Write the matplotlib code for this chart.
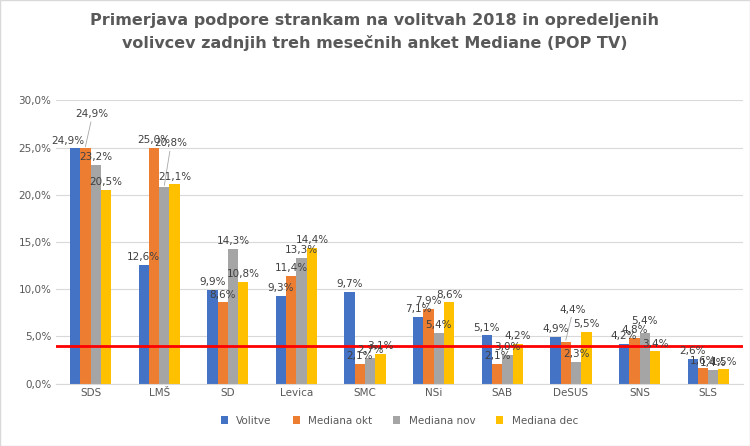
import matplotlib
matplotlib.use("Agg")
import matplotlib.pyplot as plt
import numpy as np

categories = ["SDS", "LMŠ", "SD", "Levica", "SMC", "NSi", "SAB", "DeSUS", "SNS", "SLS"]
series_names = ["Volitve", "Mediana okt", "Mediana nov", "Mediana dec"]
volitve = [24.9, 12.6, 9.9, 9.3, 9.7, 7.1, 5.1, 4.9, 4.2, 2.6]
okt = [24.9, 25.0, 8.6, 11.4, 2.1, 7.9, 2.1, 4.4, 4.8, 1.6]
nov = [23.2, 20.8, 14.3, 13.3, 2.7, 5.4, 3.0, 2.3, 5.4, 1.4]
dec = [20.5, 21.1, 10.8, 14.4, 3.1, 8.6, 4.2, 5.5, 3.4, 1.5]
colors = ["#4472C4", "#ED7D31", "#A5A5A5", "#FFC000"]
threshold = 4.0

# label lifts (series index, category index) -> extra height with leader line
lifts = {(1, 0): 2.8, (2, 1): 3.8, (1, 7): 2.6, (2, 8): 0.4, (0, 0): 0.0}

fig = plt.figure(figsize=(7.5, 4.46), dpi=100)
ax = fig.add_axes([0.075, 0.14, 0.915, 0.635])
x = np.arange(len(categories))
w = 0.15
for i, (vals, c, n) in enumerate(zip([volitve, okt, nov, dec], colors, series_names)):
    pos = x + (i - 1.5) * w
    ax.bar(pos, vals, w, color=c, label=n, zorder=2)
    for j, (p, v) in enumerate(zip(pos, vals)):
        lift = lifts.get((i, j), 0.0)
        dx = 0.0
        if i == 0 and j == 0:
            dx = -0.1
        if lift > 1:
            ax.plot([p, p + 0.08], [v + 0.2, v + lift], color="#A6A6A6", lw=0.6, zorder=3)
            dx = 0.1
        ax.text(p + dx, v + 0.3 + lift, f"{v:.1f}%".replace(".", ","), ha="center", va="bottom",
                fontsize=7.5, color="#404040", zorder=4)
ax.axhline(threshold, color="red", lw=2, zorder=3)
ax.set_ylim(0, 30)
ax.set_xlim(-0.5, len(categories) - 0.5)
ax.set_yticks(np.arange(0, 31, 5))
ax.set_yticklabels([f"{t:.1f}%".replace(".", ",") for t in np.arange(0, 31, 5)], fontsize=7.5, color="#595959")
ax.set_xticks(x)
ax.set_xticklabels(categories, fontsize=7.5, color="#595959")
ax.yaxis.grid(True, color="#D9D9D9", lw=0.8, zorder=0)
for s in ["top", "right", "left"]:
    ax.spines[s].set_visible(False)
ax.spines["bottom"].set_color("#D9D9D9")
ax.tick_params(length=0)
ax.legend(loc="upper center", bbox_to_anchor=(0.5, -0.08), ncol=4, frameon=False,
          fontsize=7.5, handlelength=0.7, handleheight=0.7, labelcolor="#595959")
fig.suptitle("Primerjava podpore strankam na volitvah 2018 in opredeljenih\nvolivcev zadnjih treh mesečnih anket Mediane (POP TV)",
             y=0.97, fontsize=11.5, fontweight="bold", color="#595959", linespacing=1.5)
fig.patches.append(plt.Rectangle((0, 0), 1, 1, transform=fig.transFigure, fill=False, ec="#D9D9D9", lw=1))
fig.savefig("out.png", dpi=100)
